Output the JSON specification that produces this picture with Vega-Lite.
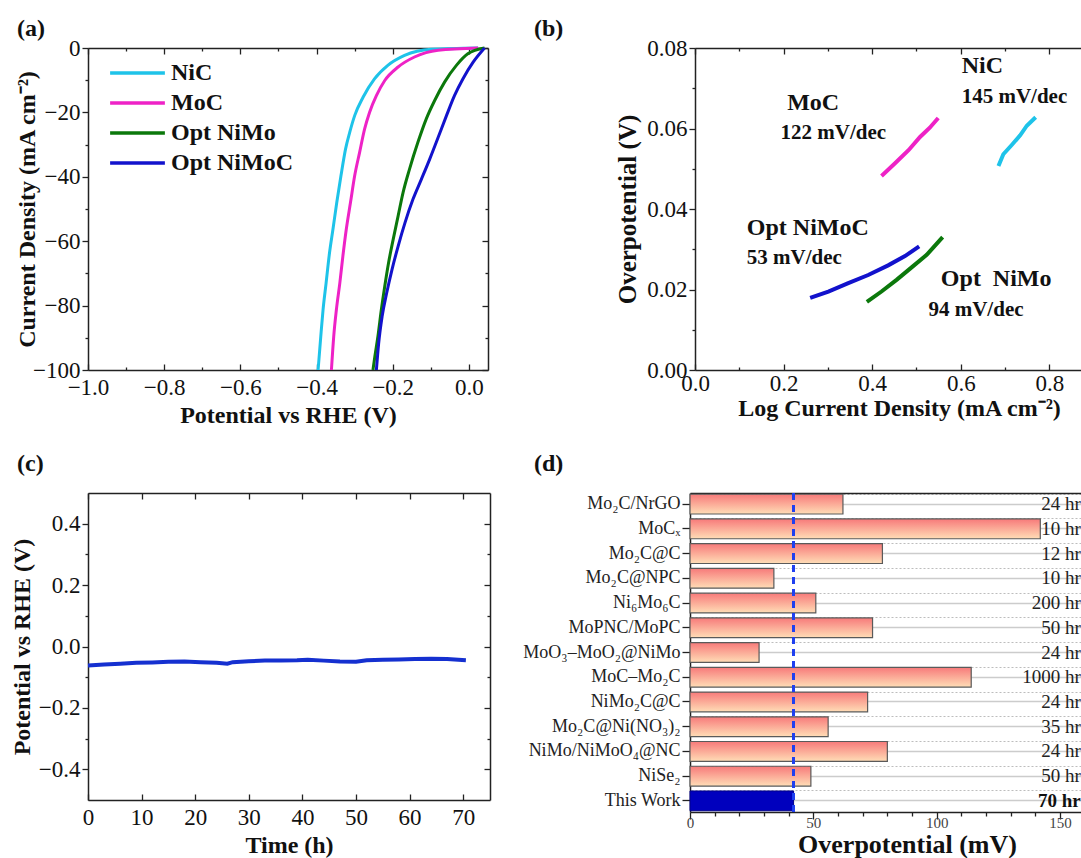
{
"$schema": "https://vega.github.io/schema/vega-lite/v6.json",
"padding": {"left": 10, "top": 16, "right": 0, "bottom": 0},
"bounds": "full",
"spacing": 24,
"datasets": {
"lsv": [
{"s":"NiC","V":0.024,"J":0},{"s":"NiC","V":-0.099,"J":-0.4},{"s":"NiC","V":-0.169,"J":-2.3},{"s":"NiC","V":-0.213,"J":-5.4},{"s":"NiC","V":-0.248,"J":-9.6},{"s":"NiC","V":-0.278,"J":-15.3},{"s":"NiC","V":-0.300,"J":-21.0},{"s":"NiC","V":-0.313,"J":-26.2},{"s":"NiC","V":-0.324,"J":-31.4},{"s":"NiC","V":-0.336,"J":-39.7},{"s":"NiC","V":-0.347,"J":-48.0},{"s":"NiC","V":-0.357,"J":-56.3},{"s":"NiC","V":-0.366,"J":-63.6},{"s":"NiC","V":-0.375,"J":-73.0},{"s":"NiC","V":-0.383,"J":-81.3},{"s":"NiC","V":-0.389,"J":-89.6},{"s":"NiC","V":-0.396,"J":-100},
{"s":"MoC","V":0.024,"J":0},{"s":"MoC","V":-0.081,"J":-0.7},{"s":"MoC","V":-0.143,"J":-2.8},{"s":"MoC","V":-0.186,"J":-5.9},{"s":"MoC","V":-0.221,"J":-10.1},{"s":"MoC","V":-0.243,"J":-14.8},{"s":"MoC","V":-0.261,"J":-20.0},{"s":"MoC","V":-0.274,"J":-25.2},{"s":"MoC","V":-0.287,"J":-32.4},{"s":"MoC","V":-0.300,"J":-39.7},{"s":"MoC","V":-0.311,"J":-48.0},{"s":"MoC","V":-0.322,"J":-56.3},{"s":"MoC","V":-0.331,"J":-64.7},{"s":"MoC","V":-0.339,"J":-73.0},{"s":"MoC","V":-0.348,"J":-81.3},{"s":"MoC","V":-0.355,"J":-89.6},{"s":"MoC","V":-0.361,"J":-100},
{"s":"Opt NiMo","V":0.041,"J":0},{"s":"Opt NiMo","V":-0.003,"J":-1.8},{"s":"Opt NiMo","V":-0.033,"J":-5.4},{"s":"Opt NiMo","V":-0.064,"J":-10.6},{"s":"Opt NiMo","V":-0.090,"J":-16.3},{"s":"Opt NiMo","V":-0.112,"J":-22.0},{"s":"Opt NiMo","V":-0.134,"J":-29.3},{"s":"Opt NiMo","V":-0.156,"J":-37.6},{"s":"Opt NiMo","V":-0.173,"J":-44.9},{"s":"Opt NiMo","V":-0.186,"J":-52.2},{"s":"Opt NiMo","V":-0.199,"J":-59.5},{"s":"Opt NiMo","V":-0.211,"J":-66.7},{"s":"Opt NiMo","V":-0.221,"J":-74.0},{"s":"Opt NiMo","V":-0.230,"J":-81.3},{"s":"Opt NiMo","V":-0.239,"J":-89.6},{"s":"Opt NiMo","V":-0.247,"J":-95.8},{"s":"Opt NiMo","V":-0.252,"J":-100},
{"s":"Opt NiMoC","V":0.041,"J":0},{"s":"Opt NiMoC","V":0.011,"J":-4.4},{"s":"Opt NiMoC","V":-0.016,"J":-9.6},{"s":"Opt NiMoC","V":-0.038,"J":-14.8},{"s":"Opt NiMoC","V":-0.059,"J":-21.0},{"s":"Opt NiMoC","V":-0.081,"J":-27.8},{"s":"Opt NiMoC","V":-0.103,"J":-34.5},{"s":"Opt NiMoC","V":-0.125,"J":-40.8},{"s":"Opt NiMoC","V":-0.147,"J":-47.0},{"s":"Opt NiMoC","V":-0.168,"J":-54.3},{"s":"Opt NiMoC","V":-0.186,"J":-61.6},{"s":"Opt NiMoC","V":-0.202,"J":-68.8},{"s":"Opt NiMoC","V":-0.216,"J":-76.1},{"s":"Opt NiMoC","V":-0.228,"J":-83.4},{"s":"Opt NiMoC","V":-0.237,"J":-91.7},{"s":"Opt NiMoC","V":-0.243,"J":-100}
],
"tafel": [
{"s":"MoC","x":0.421,"y":0.0482},{"s":"MoC","x":0.451,"y":0.0513},{"s":"MoC","x":0.482,"y":0.0546},{"s":"MoC","x":0.508,"y":0.0579},{"s":"MoC","x":0.530,"y":0.0602},{"s":"MoC","x":0.549,"y":0.0626},
{"s":"NiC","x":0.685,"y":0.0507},{"s":"NiC","x":0.696,"y":0.0536},{"s":"NiC","x":0.715,"y":0.0559},{"s":"NiC","x":0.734,"y":0.0583},{"s":"NiC","x":0.749,"y":0.0607},{"s":"NiC","x":0.769,"y":0.0628},
{"s":"Opt NiMoC","x":0.260,"y":0.0179},{"s":"Opt NiMoC","x":0.301,"y":0.0195},{"s":"Opt NiMoC","x":0.346,"y":0.0216},{"s":"Opt NiMoC","x":0.391,"y":0.0236},{"s":"Opt NiMoC","x":0.436,"y":0.0260},{"s":"Opt NiMoC","x":0.474,"y":0.0283},{"s":"Opt NiMoC","x":0.506,"y":0.0307},
{"s":"Opt NiMo","x":0.388,"y":0.0169},{"s":"Opt NiMo","x":0.421,"y":0.0195},{"s":"Opt NiMo","x":0.455,"y":0.0224},{"s":"Opt NiMo","x":0.489,"y":0.0255},{"s":"Opt NiMo","x":0.523,"y":0.0286},{"s":"Opt NiMo","x":0.559,"y":0.0330}
],
"tafelText": [
{"t":"NiC","x":0.602,"y":0.0755,"k":"name"},{"t":"145 mV/dec","x":0.602,"y":0.0679,"k":"slope"},
{"t":"MoC","x":0.208,"y":0.0664,"k":"name"},{"t":"122 mV/dec","x":0.193,"y":0.0588,"k":"slope"},
{"t":"Opt NiMoC","x":0.117,"y":0.0352,"k":"name"},{"t":"53 mV/dec","x":0.117,"y":0.0278,"k":"slope"},
{"t":"Opt\u00a0 NiMo","x":0.555,"y":0.0226,"k":"name"},{"t":"94 mV/dec","x":0.527,"y":0.0150,"k":"slope"}
],
"stab": [
{"t":0,"V":-0.062},{"t":3,"V":-0.059},{"t":6,"V":-0.056},{"t":9,"V":-0.053},{"t":12,"V":-0.052},{"t":15,"V":-0.050},{"t":18,"V":-0.049},{"t":21,"V":-0.051},{"t":24,"V":-0.053},{"t":26,"V":-0.056},{"t":27,"V":-0.051},{"t":30,"V":-0.048},{"t":33,"V":-0.046},{"t":36,"V":-0.046},{"t":39,"V":-0.045},{"t":41,"V":-0.043},{"t":44,"V":-0.046},{"t":47,"V":-0.049},{"t":50,"V":-0.050},{"t":52,"V":-0.045},{"t":55,"V":-0.043},{"t":58,"V":-0.042},{"t":61,"V":-0.041},{"t":64,"V":-0.040},{"t":67,"V":-0.041},{"t":70.5,"V":-0.045}
],
"bench": [
{"name":"Mo₂C/NrGO","eta":62,"dur":"24 hr"},{"name":"MoCₓ","eta":142,"dur":"10 hr"},{"name":"Mo₂C@C","eta":78,"dur":"12 hr"},{"name":"Mo₂C@NPC","eta":34,"dur":"10 hr"},{"name":"Ni₆Mo₆C","eta":51,"dur":"200 hr"},{"name":"MoPNC/MoPC","eta":74,"dur":"50 hr"},{"name":"MoO₃–MoO₂@NiMo","eta":28,"dur":"24 hr"},{"name":"MoC–Mo₂C","eta":114,"dur":"1000 hr"},{"name":"NiMo₂C@C","eta":72,"dur":"24 hr"},{"name":"Mo₂C@Ni(NO₃)₂","eta":56,"dur":"35 hr"},{"name":"NiMo/NiMoO₄@NC","eta":80,"dur":"24 hr"},{"name":"NiSe₂","eta":49,"dur":"50 hr"},{"name":"This Work","eta":42,"dur":"70 hr"}
]
},
"vconcat": [
{"hconcat": [
{
"width": 400, "height": 322,
"title": {"text":"(a)","anchor":"start","frame":"group","dx":-71,"offset":-3.5,"fontSize":24,"fontWeight":"bold","font":"Liberation Serif","color":"#111"},
"data": {"name":"lsv"},
"layer": [
{"mark":{"type":"line","strokeWidth":3,"interpolate":"monotone"},
"encoding":{
"x":{"field":"V","type":"quantitative","scale":{"domain":[-1,0.05],"nice":false,"zero":false},
"axis":{"orient":"bottom","values":[-1,-0.9,-0.8,-0.7,-0.6,-0.5,-0.4,-0.3,-0.2,-0.1,0],"format":".1f","labelExpr":"round(datum.value*10)%2===0 ? datum.label : ''","tickSize":{"condition":{"test":"round(datum.value*10)%2===0","value":-6},"value":-3},"labelPadding":12,"title":"Potential vs RHE (V)","titleX":200,"titleY":45,"titleBaseline":"middle"}},
"y":{"field":"J","type":"quantitative","scale":{"domain":[-100,0],"nice":false},
"axis":{"orient":"left","values":[-100,-90,-80,-70,-60,-50,-40,-30,-20,-10,0],"format":"d","labelExpr":"datum.value%20===0 ? datum.label : ''","tickSize":{"condition":{"test":"datum.value%20===0","value":6},"value":3},"labelPadding":2,"title":"Current Density (mA cm⁻²)","titleX":-61,"titleY":161,"titleBaseline":"middle"}},
"color":{"field":"s","type":"nominal","scale":{"domain":["NiC","MoC","Opt NiMo","Opt NiMoC"],"range":["#1EC3E9","#EE22C6","#0B780B","#1212CC"]},
"legend":{"orient":"none","legendX":20,"legendY":10,"title":null,"symbolType":"stroke","symbolSize":3000,"symbolStrokeWidth":3.5,"labelFontSize":24,"labelFontWeight":"bold","labelFont":"Liberation Serif","labelColor":"#111","clipHeight":30,"rowPadding":0,"labelOffset":4}}
}},
{"mark":{"type":"point","opacity":0},
"encoding":{
"x":{"field":"V","type":"quantitative","scale":{"domain":[-1,0.05],"nice":false,"zero":false},
"axis":{"orient":"top","values":[-1,-0.9,-0.8,-0.7,-0.6,-0.5,-0.4,-0.3,-0.2,-0.1,0],"labels":false,"title":null,"tickSize":{"condition":{"test":"round(datum.value*10)%2===0","value":-6},"value":-3}}},
"y":{"field":"J","type":"quantitative","scale":{"domain":[-100,0],"nice":false},
"axis":{"orient":"right","values":[-100,-90,-80,-70,-60,-50,-40,-30,-20,-10,0],"labels":false,"title":null,"tickSize":{"condition":{"test":"datum.value%20===0","value":-6},"value":-3}}}
}}
],
"resolve":{"axis":{"x":"independent","y":"independent"}}
},
{
"width": 387, "height": 322,
"title": {"text":"(b)","anchor":"start","frame":"group","dx":-161,"offset":-3.5,"fontSize":24,"fontWeight":"bold","font":"Liberation Serif","color":"#111"},
"layer": [
{"data":{"name":"tafel"},
"mark":{"type":"line","strokeWidth":4},
"encoding":{
"x":{"field":"x","type":"quantitative","scale":{"domain":[0,0.8736],"nice":false,"zero":false},
"axis":{"orient":"bottom","values":[0,0.1,0.2,0.3,0.4,0.5,0.6,0.7,0.8],"format":".1f","labelExpr":"round(datum.value*10)%2===0 ? datum.label : ''","tickSize":{"condition":{"test":"round(datum.value*10)%2===0","value":-6},"value":-3},"labelPadding":8,"title":"Log Current Density (mA cm⁻²)","titleX":204,"titleY":38.5,"titleBaseline":"middle"}},
"y":{"field":"y","type":"quantitative","scale":{"domain":[0,0.08],"nice":false},
"axis":{"orient":"left","values":[0,0.01,0.02,0.03,0.04,0.05,0.06,0.07,0.08],"format":".2f","labelExpr":"round(datum.value*100)%2===0 ? datum.label : ''","tickSize":{"condition":{"test":"round(datum.value*100)%2===0","value":6},"value":3},"labelPadding":2,"title":"Overpotential (V)","titleFontSize":25,"titleX":-68,"titleY":161,"titleBaseline":"middle"}},
"color":{"field":"s","type":"nominal","scale":{"domain":["NiC","MoC","Opt NiMo","Opt NiMoC"],"range":["#1EC3E9","#EE22C6","#0B780B","#1212CC"]},"legend":null}
}},
{"data":{"name":"tafel"},
"mark":{"type":"point","opacity":0},
"encoding":{
"x":{"field":"x","type":"quantitative","scale":{"domain":[0,0.8736],"nice":false,"zero":false},
"axis":{"orient":"top","values":[0,0.1,0.2,0.3,0.4,0.5,0.6,0.7,0.8],"labels":false,"title":null,"tickSize":{"condition":{"test":"round(datum.value*10)%2===0","value":-6},"value":-3}}},
"y":{"field":"y","type":"quantitative","scale":{"domain":[0,0.08],"nice":false},"axis":null}
}},
{"data":{"name":"tafelText"},
"transform":[{"filter":"datum.k === 'name'"}],
"mark":{"type":"text","align":"left","baseline":"middle","fontSize":24,"fontWeight":"bold","color":"#111","font":"Liberation Serif"},
"encoding":{
"x":{"field":"x","type":"quantitative","scale":{"domain":[0,0.8736],"nice":false,"zero":false},"axis":null},
"y":{"field":"y","type":"quantitative","scale":{"domain":[0,0.08],"nice":false},"axis":null},
"text":{"field":"t"}
}},
{"data":{"name":"tafelText"},
"transform":[{"filter":"datum.k === 'slope'"}],
"mark":{"type":"text","align":"left","baseline":"middle","fontSize":21,"fontWeight":"bold","color":"#111","font":"Liberation Serif"},
"encoding":{
"x":{"field":"x","type":"quantitative","scale":{"domain":[0,0.8736],"nice":false,"zero":false},"axis":null},
"y":{"field":"y","type":"quantitative","scale":{"domain":[0,0.08],"nice":false},"axis":null},
"text":{"field":"t"}
}}
],
"resolve":{"axis":{"x":"independent","y":"independent"}}
}
], "spacing": 207, "bounds": "flush"},
{"hconcat": [
{
"width": 402, "height": 307,
"title": {"text":"(c)","anchor":"start","frame":"group","dx":-71,"offset":16.5,"fontSize":24,"fontWeight":"bold","font":"Liberation Serif","color":"#111"},
"data": {"name":"stab"},
"layer": [
{"mark":{"type":"line","color":"#1530D0","strokeWidth":4},
"encoding":{
"x":{"field":"t","type":"quantitative","scale":{"domain":[0,75],"nice":false,"zero":false},
"axis":{"orient":"bottom","values":[0,10,20,30,40,50,60,70],"format":"d","tickSize":-6,"labelPadding":12,"title":"Time (h)","titleX":201,"titleY":45.5,"titleBaseline":"middle"}},
"y":{"field":"V","type":"quantitative","scale":{"domain":[-0.5,0.5],"nice":false},
"axis":{"orient":"left","values":[-0.4,-0.3,-0.2,-0.1,0,0.1,0.2,0.3,0.4],"format":".1f","labelExpr":"round(datum.value*10)%2===0 ? datum.label : ''","tickSize":{"condition":{"test":"round(datum.value*10)%2===0","value":6},"value":3},"labelPadding":2,"title":"Potential vs RHE (V)","titleX":-66,"titleY":153.5,"titleBaseline":"middle"}}
}},
{"mark":{"type":"point","opacity":0},
"encoding":{
"x":{"field":"t","type":"quantitative","scale":{"domain":[0,75],"nice":false,"zero":false},
"axis":{"orient":"top","values":[0,10,20,30,40,50,60,70],"labels":false,"title":null,"tickSize":-6}},
"y":{"field":"V","type":"quantitative","scale":{"domain":[-0.5,0.5],"nice":false},
"axis":{"orient":"right","values":[-0.4,-0.3,-0.2,-0.1,0,0.1,0.2,0.3,0.4],"labels":false,"title":null,"tickSize":{"condition":{"test":"round(datum.value*10)%2===0","value":-6},"value":-3}}}
}}
],
"resolve":{"axis":{"x":"independent","y":"independent"}}
},
{
"width": 391, "height": 319,
"title": {"text":"(d)","anchor":"start","frame":"group","dx":-156,"offset":16.5,"fontSize":24,"fontWeight":"bold","font":"Liberation Serif","color":"#111"},
"data": {"name":"bench"},
"layer": [
{"transform":[{"filter":"datum.name !== 'This Work'"}],
"mark":{"type":"bar","fill":{"gradient":"linear","x1":0,"y1":0,"x2":0,"y2":1,"stops":[{"offset":0,"color":"#F77A7A"},{"offset":1,"color":"#FFDDB6"}]},"stroke":"#5a5a5a","strokeWidth":1.2},
"encoding":{
"x":{"field":"eta","type":"quantitative","scale":{"domain":[0,158.5],"nice":false,"zero":true},
"axis":{"orient":"bottom","values":[0,10,20,30,40,50,60,70,80,90,100,110,120,130,140,150],"format":"d","labelExpr":"datum.value%50===0 ? datum.label : ''","labelFontSize":15,"labelColor":"#444","tickSize":{"condition":{"test":"datum.value%50===0","value":7},"value":4},"labelPadding":-4,"title":"Overpotential (mV)","titleFontSize":26,"titleX":217,"titleY":32,"titleBaseline":"middle"}},
"y":{"field":"name","type":"nominal","scale":{"domain":["Mo₂C/NrGO","MoCₓ","Mo₂C@C","Mo₂C@NPC","Ni₆Mo₆C","MoPNC/MoPC","MoO₃–MoO₂@NiMo","MoC–Mo₂C","NiMo₂C@C","Mo₂C@Ni(NO₃)₂","NiMo/NiMoO₄@NC","NiSe₂","This Work"],"paddingInner":0.2,"paddingOuter":0.05},
"axis":{"orient":"left","title":null,"labelFontSize":18,"labelColor":"#222","tickSize":8,"labelPadding":2,"labelLimit":300,"grid":true,"gridColor":"#cccccc","gridWidth":1.5,"bandPosition":0.5}}
}},
{"transform":[{"filter":"datum.name === 'This Work'"}],
"mark":{"type":"bar","fill":"#0000BE","stroke":"#00008a","strokeWidth":1},
"encoding":{
"x":{"field":"eta","type":"quantitative","scale":{"domain":[0,158.5],"nice":false,"zero":true},
"axis":{"orient":"top","labels":false,"ticks":false,"title":null,"domain":true}},
"y":{"field":"name","type":"nominal","axis":null}
}},
{"mark":{"type":"rule","color":"#2040F0","strokeDash":[7,5],"strokeWidth":2},
"encoding":{"x":{"datum":42,"type":"quantitative","axis":null}}},
{"transform":[{"filter":"datum.name !== 'This Work'"}],
"mark":{"type":"text","align":"right","baseline":"middle","fontSize":19,"color":"#222","font":"Liberation Serif"},
"encoding":{
"x":{"datum":158.4,"type":"quantitative","axis":null},
"y":{"field":"name","type":"nominal","axis":{"orient":"right","labels":false,"ticks":false,"domain":false,"title":null,"grid":true,"gridDash":[2,2],"gridColor":"#bdbdbd","gridWidth":1,"bandPosition":0}},
"text":{"field":"dur"}
}},
{"transform":[{"filter":"datum.name === 'This Work'"}],
"mark":{"type":"text","align":"right","baseline":"middle","fontSize":19,"fontWeight":"bold","color":"#111","font":"Liberation Serif"},
"encoding":{
"x":{"datum":158.4,"type":"quantitative","axis":null},
"y":{"field":"name","type":"nominal","axis":null},
"text":{"field":"dur"}
}}
],
"resolve":{"axis":{"x":"independent","y":"independent"}}
}
], "spacing": 200, "bounds": "flush"}
],
"config": {
"font":"Liberation Serif",
"view":{"stroke":null},
"axis":{"labelFont":"Liberation Serif","titleFont":"Liberation Serif","labelFontSize":23,"titleFontSize":24,"titleFontWeight":"bold","labelColor":"#111","titleColor":"#111","domainColor":"#222","tickColor":"#222","domainWidth":1.5,"tickWidth":1.3,"grid":false,"labelFlush":false,"labelOverlap":false,"labelBound":false},
"legend":{"labelFont":"Liberation Serif"},
"text":{"font":"Liberation Serif"},
"title":{"font":"Liberation Serif"}
}
}
